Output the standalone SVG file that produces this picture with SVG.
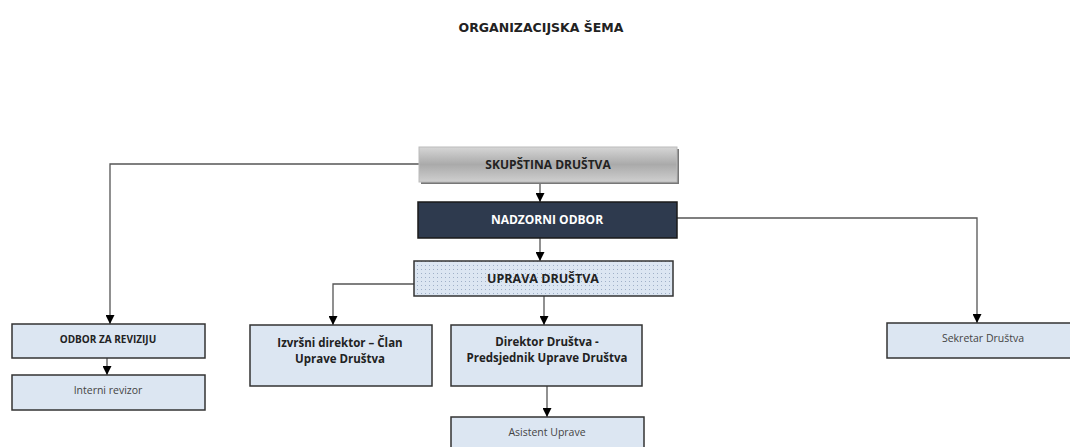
<svg xmlns="http://www.w3.org/2000/svg" width="1070" height="447" viewBox="0 0 1070 447">
<style>
.box{fill:#dce6f2;stroke:#333;stroke-width:1.5}
.ln{fill:none;stroke:#555;stroke-width:1.3}
.t{font-family:"Open Sans","Liberation Sans",sans-serif;text-anchor:middle;dominant-baseline:central}
.b{font-weight:bold;fill:#222}
.r{fill:#444}
</style>
<defs>
<linearGradient id="gray" x1="0" y1="0" x2="0" y2="1">
<stop offset="0" stop-color="#d6d6d6"/>
<stop offset="0.5" stop-color="#aaaaaa"/>
<stop offset="1" stop-color="#cfcfcf"/>
</linearGradient>
<pattern id="dots" width="4" height="4" patternUnits="userSpaceOnUse">
<rect width="4" height="4" fill="#dce6f2"/>
<rect x="1" y="1" width="1" height="1" fill="#9fb0c8"/>
</pattern>
<marker id="ah" viewBox="0 0 10 10" refX="10" refY="5" markerWidth="9" markerHeight="9" markerUnits="userSpaceOnUse" orient="auto">
<path d="M0,0 L10,5 L0,10 Z" fill="#000"/>
</marker>
</defs>
<rect width="1070" height="447" fill="#fff"/>
<text x="541" y="27" font-family="'DejaVu Sans',sans-serif" font-weight="bold" font-size="12.5" text-anchor="middle" dominant-baseline="central" fill="#222">ORGANIZACIJSKA ŠEMA</text>
<g id="connectors">
<path class="ln" d="M419,164 H110 V324" marker-end="url(#ah)"/>
<path class="ln" d="M540,182 V202" marker-end="url(#ah)"/>
<path class="ln" d="M677,218 H977 V323" marker-end="url(#ah)"/>
<path class="ln" d="M540,238 V261" marker-end="url(#ah)"/>
<path class="ln" d="M414,284 H333 V325" marker-end="url(#ah)"/>
<path class="ln" d="M544,296 V325" marker-end="url(#ah)"/>
<path class="ln" d="M547,386 V417" marker-end="url(#ah)"/>
<path class="ln" d="M107,358 V375" marker-end="url(#ah)"/>
</g>
<g id="skupstina">
<rect x="421" y="149" width="258" height="35" fill="#777"/>
<rect x="419" y="147" width="258" height="35" fill="url(#gray)" stroke="#bbb" stroke-width="1"/>
<text class="t b" x="548" y="164" font-size="12">SKUPŠTINA DRUŠTVA</text>
</g>
<g id="nadzorni">
<rect x="418" y="202" width="259" height="36" fill="#2e3a4e" stroke="#1a1a1a" stroke-width="1.5"/>
<text class="t" x="547" y="219" font-size="12" font-weight="bold" fill="#fff">NADZORNI ODBOR</text>
</g>
<g id="uprava">
<rect x="414" y="261" width="259" height="35" fill="url(#dots)" stroke="#333" stroke-width="1.5"/>
<text class="t b" x="543" y="278" font-size="12.5">UPRAVA DRUŠTVA</text>
</g>
<g id="odbor-revizija">
<rect class="box" x="12" y="324" width="193" height="34"/>
<text class="t b" x="108" y="339" font-size="10">ODBOR ZA REVIZIJU</text>
</g>
<g id="interni">
<rect class="box" x="12" y="375" width="193" height="35"/>
<text class="t r" x="108" y="390" font-size="10.5">Interni revizor</text>
</g>
<g id="izvrsni">
<rect class="box" x="250" y="325" width="182" height="61"/>
<text class="t b" x="340" y="342" font-size="11.5">Izvršni direktor – Član</text>
<text class="t b" x="340" y="358" font-size="11.5">Uprave Društva</text>
</g>
<g id="direktor">
<rect class="box" x="451" y="325" width="191" height="61"/>
<text class="t b" x="547" y="341" font-size="11.5">Direktor Društva -</text>
<text class="t b" x="547" y="357" font-size="11.5">Predsjednik Uprave Društva</text>
</g>
<g id="asistent">
<rect class="box" x="451" y="417" width="193" height="40"/>
<text class="t r" x="547" y="432" font-size="10.5">Asistent Uprave</text>
</g>
<g id="sekretar">
<rect class="box" x="887" y="323" width="190" height="35"/>
<text class="t r" x="983" y="338" font-size="10.5">Sekretar Društva</text>
</g>
</svg>
